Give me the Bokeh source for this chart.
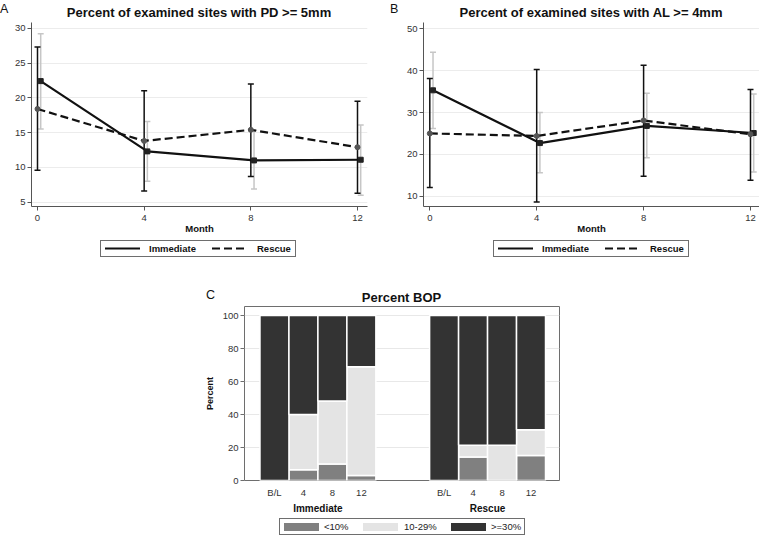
from bokeh.plotting import figure
from bokeh.layouts import column, row
from bokeh.models import Range1d, FixedTicker, LinearAxis, ColumnDataSource, Div
from bokeh.embed import file_html
from bokeh.resources import INLINE

FONT = "Liberation Sans"

# ---------------- data ----------------
months = [0, 4, 8, 12]
series_names = ["Immediate", "Rescue"]

# Panel A: percent of examined sites with PD >= 5mm
pd_title = "Percent of examined sites with PD &gt;= 5mm"
pd_imm = [22.4, 12.3, 11.0, 11.1]
pd_imm_lo = [15.5, 8.0, 6.9, 6.0]
pd_imm_hi = [29.2, 16.6, 15.3, 16.1]
pd_res = [18.4, 13.8, 15.4, 12.9]
pd_res_lo = [9.6, 6.6, 8.7, 6.3]
pd_res_hi = [27.3, 21.0, 22.0, 19.5]
pd_yticks = [5, 10, 15, 20, 25, 30]

# Panel B: percent of examined sites with AL >= 4mm
al_title = "Percent of examined sites with AL &gt;= 4mm"
al_imm = [35.3, 22.7, 26.8, 25.1]
al_imm_lo = [26.2, 15.6, 19.2, 15.8]
al_imm_hi = [44.4, 30.0, 34.6, 34.4]
al_res = [25.0, 24.4, 28.1, 24.8]
al_res_lo = [12.1, 8.6, 14.8, 13.8]
al_res_hi = [38.1, 40.3, 41.3, 35.5]
al_yticks = [10, 20, 30, 40, 50]

# Panel C: percent BOP
bop_title = "Percent BOP"
bop_groups = ["Immediate", "Rescue"]
bop_visits = ["B/L", "4", "8", "12"]
bop_cats = ["&lt;10%", "10-29%", "&gt;=30%"]
bop_lt10 = [0, 6.5, 10.0, 3.1, 0, 14.2, 0, 15.1]
bop_10_29 = [0, 33.5, 38.2, 65.8, 0, 7.1, 21.3, 15.6]
bop_ge30 = [100, 60.0, 51.8, 31.1, 100, 78.7, 78.7, 69.3]
bop_yticks = [0, 20, 40, 60, 80, 100]
bop_colors = ["#808080", "#e4e4e4", "#333333"]

LINE_COLOR = "#111111"
IMM_ERR = "#c6c6c6"
RES_ERR = "#111111"
DASH = "8 4"


def style_axes(p, axis_color="#555555"):
    for ax in p.axis:
        ax.axis_line_color = axis_color
        ax.major_tick_line_color = axis_color
        ax.minor_tick_line_color = None
        ax.major_tick_out = 4
        ax.major_tick_in = 0
        ax.major_label_text_font = FONT
        ax.major_label_text_font_size = "9.5px"
        ax.major_label_text_color = "#333333"
        ax.axis_label_text_font = FONT
        ax.axis_label_text_font_style = "bold"
        ax.axis_label_text_font_size = "9.5px"
        ax.axis_label_text_color = "#111111"


def line_panel(imm, imm_lo, imm_hi, res, res_lo, res_hi, yticks,
               width, height, borders, xr, yr):
    l, r, t, b = borders
    p = figure(width=width, height=height, output_backend="svg", toolbar_location=None,
               title=None, x_range=Range1d(*xr), y_range=Range1d(*yr),
               min_border_left=l, min_border_right=r, min_border_top=t, min_border_bottom=b)
    p.outline_line_color = None
    p.xgrid.visible = False
    p.ygrid.grid_line_color = "#ececec"
    p.ygrid.ticker = FixedTicker(ticks=yticks)
    p.xaxis.ticker = FixedTicker(ticks=months)
    p.yaxis.ticker = FixedTicker(ticks=yticks)
    style_axes(p)
    p.yaxis.major_label_standoff = 2
    p.xaxis.major_label_standoff = 4
    p.xaxis.axis_label = "Month"
    p.xaxis.axis_label_standoff = -1

    x_imm = [m + 0.12 for m in months]
    p.segment(x_imm, imm_lo, x_imm, imm_hi, line_color=IMM_ERR, line_width=1.5)
    p.scatter(x_imm + x_imm, imm_lo + imm_hi, marker="dash", size=6,
              line_color=IMM_ERR, line_width=1.5)
    p.segment(months, res_lo, months, res_hi, line_color=RES_ERR, line_width=1.5)
    p.scatter(months + months, res_lo + res_hi, marker="dash", size=6,
              line_color=RES_ERR, line_width=1.5)
    p.line(x_imm, imm, line_color=LINE_COLOR, line_width=2.2)
    p.scatter(x_imm, imm, marker="square", size=5, color="#222222")
    p.line(months, res, line_color=LINE_COLOR, line_width=2.2, line_dash=DASH)
    p.scatter(months, res, marker="circle", size=5, color="#555555")
    return p


pA = line_panel(pd_imm, pd_imm_lo, pd_imm_hi, pd_res, pd_res_lo, pd_res_hi,
                pd_yticks, 390, 218, (31, 23, 3, 31), (-0.225, 12.375), (4.38, 30.82))
pB = line_panel(al_imm, al_imm_lo, al_imm_hi, al_res, al_res_lo, al_res_hi,
                al_yticks, 369, 218, (33, 0, 3, 30), (-0.236, 12.337), (7.55, 51.5))


# ---------------- html helpers (titles, letters, legends) ----------------
def txt(left, top, text, size, weight="normal", width=None, align="left", h=None, color="#111"):
    wcss = f"width:{width}px;" if width else ""
    lh = h if h else size
    return (f'<div style="position:absolute;left:{left}px;top:{top}px;{wcss}'
            f'text-align:{align};white-space:nowrap;font-family:\'{FONT}\';'
            f'font-size:{size}px;line-height:{lh}px;font-weight:{weight};color:{color};">'
            f'{text}</div>')


def line_sample(left, h, dash):
    da = f' stroke-dasharray="{dash}"' if dash else ""
    return (f'<svg style="position:absolute;left:{left}px;top:0px" width="35" height="{h}">'
            f'<line x1="0" y1="{h / 2}" x2="35" y2="{h / 2}" stroke="{LINE_COLOR}" '
            f'stroke-width="2.2"{da}/></svg>')


def swatch(left, h, color):
    return (f'<div style="position:absolute;left:{left}px;top:{(h - 8) / 2}px;'
            f'width:35px;height:8px;background:{color};"></div>')


def box(left, top, w, h, inner):
    return (f'<div style="position:absolute;left:{left}px;top:{top}px;width:{w}px;'
            f'height:{h}px;box-sizing:border-box;border:1px solid #6e6e6e;background:white;">'
            + inner + '</div>')


def panel_div(w, h, parts):
    html = (f'<div style="position:relative;width:{w}px;height:{h}px;overflow:visible;">'
            + "".join(parts) + "</div>")
    return Div(text=html, width=w, height=h, margin=0)


def series_legend(left, top, w, h):
    ih = h - 2
    inner = (line_sample(4, ih, None)
             + txt(48, 0, series_names[0], 9.5, "bold", h=ih)
             + line_sample(111, ih, DASH)
             + txt(156, 0, series_names[1], 9.5, "bold", h=ih))
    return box(left, top, w, h, inner)


hdr_ab = panel_div(759, 19, [
    txt(0, 3, "A", 12.5),
    txt(31, 6, pd_title, 13, "bold", width=336, align="center"),
    txt(390, 3, "B", 12.5),
    txt(423, 6, al_title, 13, "bold", width=336, align="center"),
])

mid = panel_div(759, 65, [
    series_legend(100, 3, 196, 17),
    series_legend(493, 3, 196, 17),
    txt(206, 52, "C", 12.5),
    txt(244, 54, bop_title, 13, "bold", width=315, align="center"),
])

# ---------------- panel C ----------------
n = len(bop_visits)
group_gap = 1.855
bop_x = [round(g * (n + group_gap) + i, 3) for g in range(len(bop_groups)) for i in range(n)]
group_centers = [round(sum(bop_x[g * n:(g + 1) * n]) / n, 3) for g in range(len(bop_groups))]

cW, cH = 759, 214
cl, cr, ct, cb = 244, 200, 4, 32
pC = figure(width=cW, height=cH, output_backend="svg", toolbar_location=None, title=None,
            x_range=Range1d(-1.034, bop_x[-1] + 0.983), y_range=Range1d(0, 105.5),
            min_border_left=cl, min_border_right=cr, min_border_top=ct, min_border_bottom=cb)
pC.outline_line_color = "#6e6e6e"
pC.xgrid.visible = False
pC.ygrid.grid_line_color = "#e8e8e8"
pC.ygrid.ticker = FixedTicker(ticks=bop_yticks)
src = ColumnDataSource(dict(x=bop_x, lt10=bop_lt10, mid=bop_10_29, ge30=bop_ge30))
pC.vbar_stack(["lt10", "mid", "ge30"], x="x", width=1.0, fill_color=bop_colors,
              line_color="white", line_width=1.5, source=src)

grp_axis = LinearAxis(ticker=FixedTicker(ticks=group_centers),
                      major_label_overrides={c: g for c, g in zip(group_centers, bop_groups)})
pC.add_layout(grp_axis, "below")
style_axes(pC, "#6e6e6e")
pC.xaxis.axis_line_color = None
pC.yaxis.axis_line_color = None
pC.xaxis.major_tick_line_color = None
pC.xaxis.major_tick_out = 0
pC.xaxis[0].ticker = FixedTicker(ticks=bop_x)
pC.xaxis[0].major_label_overrides = {x: lab for x, lab in zip(bop_x, bop_visits * len(bop_groups))}
pC.xaxis[0].major_label_standoff = 6
grp_axis.major_label_standoff = 2
grp_axis.major_label_text_font_style = "bold"
grp_axis.major_label_text_font_size = "10px"
grp_axis.major_label_text_color = "#111111"
pC.yaxis.ticker = FixedTicker(ticks=bop_yticks)
pC.yaxis.major_label_standoff = 2
pC.yaxis.axis_label = "Percent"
pC.yaxis.axis_label_standoff = 5
pC.yaxis.axis_label_text_font_size = "9px"

ih = 15
legc_inner = "".join([
    swatch(4, ih, bop_colors[0]), txt(44, 0, bop_cats[0], 9.5, h=ih, color="#222"),
    swatch(83, ih, bop_colors[1]), txt(124, 0, bop_cats[1], 9.5, h=ih, color="#222"),
    swatch(171, ih, bop_colors[2]), txt(211, 0, bop_cats[2], 9.5, h=ih, color="#222"),
])
bottom = panel_div(759, 20, [box(279, 2, 246, 17, legc_inner)])

layout = column(hdr_ab, row(pA, pB), mid, pC, bottom)
open("out.html", "w").write(file_html(layout, INLINE))
